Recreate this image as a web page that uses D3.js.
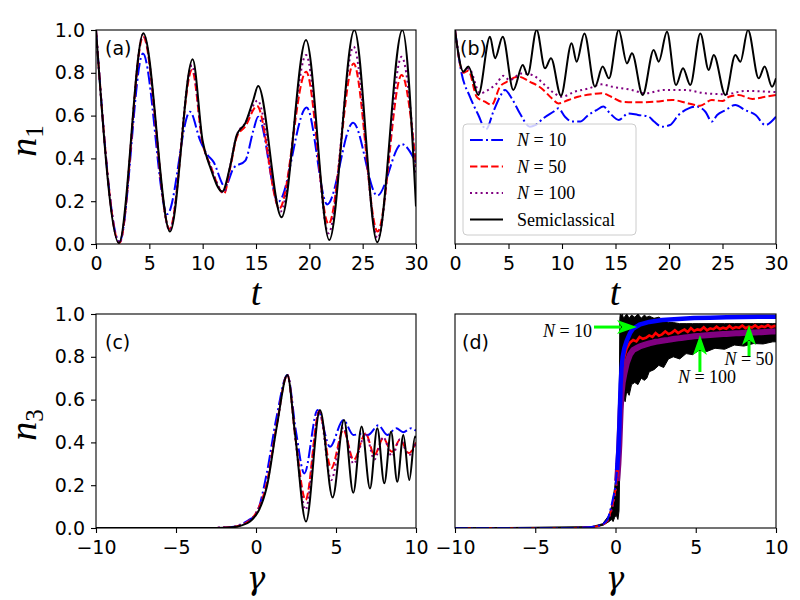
<!DOCTYPE html>
<html>
<head>
<meta charset="utf-8">
<script src="https://cdn.jsdelivr.net/npm/d3@7"></script>
<style>body{margin:0;background:#fff}</style>
</head>
<body>
<div id="chart"></div>
<script>
// ---- data: [t or gamma, n] ----
const a_N10 = [[0,1.0],[2.2,0.01],[4.4,0.89],[6.69,0.14],[8.81,0.618],[9.75,0.486],[10.4,0.42],[11.0,0.385],[12.1,0.268],[12.9,0.355],[14.0,0.39],[14.75,0.53],[15.2,0.595],[17.1,0.198],[19.75,0.638],[21.68,0.185],[24.1,0.567],[26.37,0.226],[28.65,0.467],[30,0.38]]
const a_N50 = [[0,1.0],[2.2,0.005],[4.42,0.97],[6.9,0.07],[9.0,0.813],[10.0,0.47],[10.7,0.37],[12.0,0.235],[12.6,0.36],[13.2,0.5],[14.0,0.55],[15.1,0.645],[17.2,0.167],[19.7,0.805],[21.8,0.093],[24.15,0.844],[26.4,0.058],[28.65,0.79],[30,0.37]]
const a_N100 = [[0,1.0],[2.2,0.005],[4.42,0.98],[6.9,0.065],[9.0,0.835],[10.0,0.47],[10.7,0.37],[12.0,0.24],[12.6,0.37],[13.2,0.51],[14.0,0.565],[15.15,0.67],[17.3,0.152],[19.7,0.883],[21.8,0.05],[24.15,0.922],[26.4,0.027],[28.65,0.875],[30,0.33]]
const a_semi = [[0,1.0],[2.15,0.005],[4.44,0.985],[6.94,0.058],[9.06,0.863],[10.0,0.48],[10.7,0.36],[11.84,0.245],[12.56,0.36],[13.2,0.51],[14.0,0.565],[14.75,0.673],[15.2,0.738],[17.4,0.125],[19.69,0.953],[21.87,0.019],[24.22,1.0],[26.37,0.008],[28.72,1.0],[30,0.175]]

const b_N10 = [[0,1.0],[0.62,0.797],[1.4,0.688],[2.18,0.603],[2.9,0.535],[3.58,0.618],[4.2,0.688],[4.67,0.72],[5.3,0.681],[6.07,0.61],[7.0,0.548],[7.5,0.555],[8.25,0.587],[9.19,0.618],[9.66,0.634],[10.28,0.595],[10.9,0.572],[11.7,0.572],[12.46,0.603],[13.24,0.626],[13.86,0.642],[14.5,0.61],[15.3,0.58],[16.2,0.61],[17.1,0.603],[18.1,0.595],[18.6,0.572],[19.35,0.548],[20.1,0.556],[20.9,0.603],[21.84,0.634],[22.6,0.642],[23.4,0.618],[24.0,0.572],[24.5,0.603],[25.3,0.626],[26.2,0.65],[27.1,0.626],[28.1,0.603],[29.0,0.556],[30,0.595]]
const b_N50 = [[0,1.0],[0.78,0.8],[1.25,0.81],[2.03,0.688],[2.8,0.665],[3.43,0.65],[4.2,0.735],[4.83,0.758],[5.92,0.782],[7.0,0.758],[8.1,0.727],[9.04,0.681],[9.66,0.657],[10.6,0.673],[11.5,0.688],[12.8,0.70],[13.7,0.705],[14.6,0.688],[15.6,0.665],[17.2,0.662],[18.7,0.665],[20.3,0.673],[21.8,0.657],[22.9,0.646],[24.0,0.673],[25.0,0.668],[25.6,0.688],[26.5,0.696],[27.8,0.678],[29.0,0.688],[30,0.696]]
const b_N100 = [[0,1.0],[0.78,0.805],[1.3,0.82],[2.34,0.704],[3.1,0.72],[3.9,0.75],[4.5,0.786],[5.1,0.766],[6.23,0.797],[7.2,0.79],[8.4,0.743],[9.3,0.704],[9.97,0.688],[11.2,0.712],[12.5,0.727],[13.7,0.746],[14.7,0.735],[16.5,0.72],[17.8,0.704],[19.6,0.72],[21.5,0.72],[23.4,0.704],[25.3,0.70],[27.1,0.715],[30,0.71]]
const b_semi = [[0,1.0],[0.78,0.805],[1.25,0.829],[2.18,0.696],[3.27,0.969],[3.74,0.868],[4.46,0.969],[5.45,0.72],[6.33,0.836],[6.79,0.79],[7.63,1.0],[8.41,0.821],[8.97,0.868],[9.9,0.693],[10.9,0.938],[11.37,0.852],[12.09,0.984],[13.08,0.735],[13.8,0.829],[14.39,0.774],[15.3,1.0],[16.07,0.844],[16.54,0.891],[17.54,0.696],[18.57,0.907],[19.04,0.852],[19.81,0.992],[20.65,0.743],[21.31,0.821],[21.99,0.743],[22.93,0.984],[23.71,0.813],[24.18,0.883],[25.27,0.696],[26.2,0.883],[26.67,0.852],[27.38,1.0],[28.38,0.774],[28.94,0.829],[29.63,0.735],[30,0.774]]

const c_N10 = [[-10,0],[-3,0],[-2,0.002],[-1.5,0.005],[-1,0.015],[-0.5,0.035],[0.04,0.069],[0.67,0.255],[1.29,0.52],[1.96,0.715],[2.5,0.45],[3.02,0.255],[3.85,0.551],[4.625,0.38],[5.46,0.505],[6.08,0.435],[6.6,0.44],[7.0,0.435],[7.65,0.48],[8.2,0.435],[8.77,0.466],[9.2,0.448],[9.7,0.466],[10,0.455]]
const c_N50 = [[-10,0],[-3,0],[-2,0.002],[-1.5,0.004],[-1,0.012],[-0.5,0.03],[0,0.07],[0.67,0.21],[1.29,0.48],[1.96,0.715],[2.5,0.4],[3.1,0.131],[3.95,0.545],[4.7,0.279],[5.46,0.458],[6.1,0.318],[6.85,0.442],[7.4,0.341],[7.95,0.419],[8.5,0.356],[9.0,0.412],[9.55,0.35],[10,0.4]]
const c_N100 = [[-10,0],[-3,0],[-2,0.002],[-1.5,0.004],[-1,0.012],[-0.5,0.03],[0,0.07],[0.67,0.2],[1.29,0.475],[1.96,0.715],[2.5,0.39],[3.1,0.085],[3.95,0.548],[4.7,0.224],[5.46,0.47],[6.1,0.3],[6.85,0.44],[7.4,0.32],[7.95,0.425],[8.5,0.335],[9.0,0.415],[9.55,0.34],[10,0.4]]
const c_semi = [[-10,0],[-3,0],[-2,0.001],[-1.5,0.003],[-1,0.01],[-0.375,0.03],[0.67,0.19],[1.29,0.47],[1.96,0.715],[2.44,0.44],[3.125,0.03],[4.0,0.551],[4.79,0.143],[5.5,0.505],[6.08,0.165],[6.6,0.474],[7.125,0.185],[7.58,0.466],[8.02,0.209],[8.44,0.45],[8.83,0.216],[9.21,0.435],[9.58,0.224],[9.94,0.427],[10,0.42]]

const d_N10 = [[-10,0],[-3,0],[-2,0.002],[-1.5,0.005],[-1,0.012],[-0.75,0.02],[-0.5,0.04],[-0.35,0.075],[-0.15,0.14],[0,0.2],[0.1,0.27],[0.18,0.36],[0.24,0.47],[0.28,0.57],[0.32,0.67],[0.38,0.75],[0.45,0.8],[0.55,0.84],[0.7,0.875],[0.9,0.91],[1.1,0.932],[1.5,0.95],[2.1,0.963],[2.9,0.972],[3.9,0.977],[4.9,0.981],[5.9,0.983],[6.9,0.985],[7.9,0.986],[8.9,0.987],[10,0.987]]
const d_N50 = [[-10,0],[-3,0],[-2,0.002],[-1.5,0.004],[-1,0.01],[-0.75,0.018],[-0.5,0.035],[-0.35,0.065],[-0.15,0.12],[0,0.18],[0.1,0.24],[0.18,0.33],[0.24,0.43],[0.28,0.53],[0.32,0.63],[0.38,0.71],[0.45,0.76],[0.55,0.8],[0.7,0.84],[0.9,0.866],[1.1,0.878],[1.3,0.872],[1.5,0.893],[1.7,0.884],[1.9,0.889],[2.1,0.9],[2.3,0.893],[2.5,0.911],[2.7,0.898],[2.9,0.905],[3.1,0.918],[3.3,0.906],[3.5,0.912],[3.7,0.924],[3.9,0.911],[4.1,0.92],[4.3,0.927],[4.5,0.916],[4.7,0.934],[4.9,0.921],[5.1,0.928],[5.3,0.925],[5.5,0.938],[5.7,0.924],[5.9,0.933],[6.1,0.929],[6.3,0.941],[6.5,0.93],[6.7,0.936],[6.9,0.931],[7.1,0.944],[7.3,0.932],[7.5,0.939],[7.7,0.935],[7.9,0.946],[8.1,0.934],[8.3,0.941],[8.5,0.937],[8.7,0.947],[8.9,0.936],[9.1,0.943],[9.3,0.939],[9.5,0.948],[9.7,0.938],[9.9,0.944],[10,0.942]]
const d_N100 = [[-10,0],[-3,0],[-2,0.002],[-1.5,0.004],[-1,0.01],[-0.75,0.017],[-0.5,0.033],[-0.35,0.06],[-0.15,0.11],[0,0.17],[0.1,0.22],[0.18,0.3],[0.24,0.39],[0.28,0.47],[0.32,0.55],[0.38,0.63],[0.45,0.68],[0.55,0.72],[0.7,0.77],[0.9,0.81],[1.1,0.832],[1.3,0.84],[1.5,0.848],[1.7,0.853],[1.9,0.858],[2.1,0.863],[2.3,0.866],[2.5,0.87],[2.7,0.872],[2.9,0.875],[3.1,0.877],[3.3,0.879],[3.5,0.882],[3.7,0.884],[3.9,0.886],[4.1,0.888],[4.3,0.89],[4.5,0.892],[4.7,0.894],[4.9,0.896],[5.1,0.897],[5.3,0.898],[5.5,0.9],[5.7,0.901],[5.9,0.902],[6.1,0.903],[6.3,0.904],[6.5,0.905],[6.7,0.906],[6.9,0.907],[7.1,0.908],[7.3,0.909],[7.5,0.91],[7.7,0.91],[7.9,0.911],[8.1,0.912],[8.3,0.913],[8.5,0.913],[8.7,0.914],[8.9,0.915],[9.1,0.915],[9.3,0.916],[9.5,0.917],[9.7,0.918],[9.9,0.918],[10,0.919]]
// semiclassical in (d) is a dense noisy band: [gamma, lower edge, upper edge]
const d_semi = [[-10,0,0],[-1.5,0.004,0.006],[-0.8,0.012,0.02],[-0.4,0.03,0.06],[-0.25,0.04,0.1],[-0.15,0.03,0.14],[-0.05,0.05,0.19],[0.05,0.06,0.25],[0.15,0.04,0.32],[0.22,0.08,0.42],[0.27,0.3,0.98],[0.3,0.5,1.0],[0.35,0.6,0.99],[0.42,0.57,1.0],[0.5,0.61,0.98],[0.6,0.59,0.99],[0.7,0.64,1.0],[0.85,0.62,0.98],[1.0,0.67,0.995],[1.2,0.68,0.985],[1.4,0.67,1.0],[1.6,0.7,0.98],[1.8,0.69,0.995],[1.95,0.7,0.985],[2.1,0.73,0.99],[2.4,0.74,0.98],[2.7,0.76,0.985],[3.0,0.75,0.97],[3.3,0.79,0.96],[3.6,0.8,0.96],[4.0,0.79,0.955],[4.4,0.815,0.955],[4.8,0.81,0.955],[5.2,0.83,0.955],[5.7,0.825,0.955],[6.2,0.84,0.955],[6.8,0.835,0.955],[7.4,0.855,0.955],[8.0,0.85,0.955],[8.6,0.862,0.955],[9.2,0.86,0.955],[9.8,0.87,0.955],[10,0.87,0.955]]

const nTicks = [0, 0.2, 0.4, 0.6, 0.8, 1.0]
const tTicks = [0, 5, 10, 15, 20, 25, 30]
const gTicks = [-10, -5, 0, 5, 10]
const legendNames = ['N10', 'N50', 'N100', 'semi']
const legendLabels = {N10: '10', N50: '50', N100: '100', semi: 'Semiclassical'}
// annotations in (d): label number, text position, arrow tail and tip (data coords)
const annotations = [
    {label: '10', tx: -1.46, ty: 0.893, anchor: 'end', x1: -1.34, y1: 0.939, x2: 1.34, y2: 0.939},
    {label: '100', tx: 5.7, ty: 0.678, anchor: 'middle', x1: 5.26, y1: 0.729, x2: 5.26, y2: 0.902},
    {label: '50', tx: 8.32, ty: 0.762, anchor: 'middle', x1: 8.32, y1: 0.799, x2: 8.32, y2: 0.949}
]

const styles = {
    N10: {color: 'blue', dash: '12.8,3.2,2,3.2'},
    N50: {color: 'red', dash: '7.4,3.2'},
    N100: {color: 'purple', dash: '2,3.3'},
    semi: {color: 'black', dash: null}
}

const width = 800, height = 600
const svg = d3.select('#chart')
    .append('svg')
    .attr('width', width)
    .attr('height', height)
    .style('font-family', 'DejaVu Sans')

const mathFont = 'Liberation Serif'

function panel(id, xDom, xRange, yRange, xTicks, showY) {
    const x = d3.scaleLinear().domain(xDom).range(xRange)
    const y = d3.scaleLinear().domain([0, 1]).range(yRange)
    svg.append('clipPath').attr('id', 'clip-' + id)
        .append('rect')
        .attr('x', xRange[0]).attr('y', yRange[1])
        .attr('width', xRange[1] - xRange[0]).attr('height', yRange[0] - yRange[1])
    const xAxis = d3.axisBottom(x).tickValues(xTicks).tickFormat(d3.format('d'))
        .tickSize(5).tickSizeOuter(0).tickPadding(8)
    svg.append('g')
        .attr('transform', 'translate(0,' + yRange[0] + ')')
        .call(xAxis)
        .call(g => g.select('.domain').remove())
        .attr('font-size', 19).attr('font-family', 'DejaVu Sans')
        .call(g => g.selectAll('line').attr('stroke-width', 1.1))
    if (showY) {
        const yAxis = d3.axisLeft(y).tickValues(nTicks).tickFormat(d3.format('.1f'))
            .tickSize(5).tickSizeOuter(0).tickPadding(6)
        svg.append('g')
            .attr('transform', 'translate(' + xRange[0] + ',0)')
            .call(yAxis)
            .call(g => g.select('.domain').remove())
            .attr('font-size', 19).attr('font-family', 'DejaVu Sans')
            .call(g => g.selectAll('line').attr('stroke-width', 1.1))
    }
    const plot = svg.append('g').attr('clip-path', 'url(#clip-' + id + ')')
    return {x, y, plot, xRange, yRange}
}

function drawLine(p, data, key, curve, widthPx, dashed) {
    const line = d3.line()
        .x(d => p.x(d[0]))
        .y(d => p.y(d[1]))
        .curve(curve || d3.curveMonotoneX)
    p.plot.append('path')
        .datum(data)
        .attr('d', line)
        .attr('fill', 'none')
        .attr('stroke', styles[key].color)
        .attr('stroke-width', widthPx || 2)
        .attr('stroke-dasharray', dashed === false ? null : styles[key].dash)
}

function frame(p) {
    svg.append('rect')
        .attr('x', p.xRange[0]).attr('y', p.yRange[1])
        .attr('width', p.xRange[1] - p.xRange[0])
        .attr('height', p.yRange[0] - p.yRange[1])
        .attr('fill', 'none').attr('stroke', 'black').attr('stroke-width', 1.1)
}

function panelLabel(text, x, y) {
    svg.append('text').attr('x', x).attr('y', y)
        .attr('font-size', 19).attr('font-family', 'DejaVu Sans').text(text)
}

function mathN(sel, num) {
    sel.append('tspan').attr('font-style', 'italic').text('N')
    sel.append('tspan').text(' = ' + num)
}

// ---- panel (a) ----
const pa = panel('a', [0, 30], [96, 416], [244, 30], tTicks, true)
drawLine(pa, a_N10, 'N10')
drawLine(pa, a_N50, 'N50')
drawLine(pa, a_N100, 'N100')
drawLine(pa, a_semi, 'semi')
frame(pa)
panelLabel('(a)', 105, 55)

// ---- panel (b) ----
const pb = panel('b', [0, 30], [455, 776], [244, 30], tTicks, false)
drawLine(pb, b_N10, 'N10')
drawLine(pb, b_N50, 'N50')
drawLine(pb, b_N100, 'N100')
drawLine(pb, b_semi, 'semi')
frame(pb)
panelLabel('(b)', 460, 55)

// legend
const leg = svg.append('g').attr('transform', 'translate(463,124)')
leg.append('rect')
    .attr('width', 173).attr('height', 111).attr('rx', 4)
    .attr('fill', 'white').attr('fill-opacity', 0.8)
    .attr('stroke', '#cccccc').attr('stroke-width', 1)
legendNames.forEach((k, i) => {
    const yy = 16 + i * 26.5
    leg.append('line')
        .attr('x1', 7).attr('x2', 40).attr('y1', yy).attr('y2', yy)
        .attr('stroke', styles[k].color).attr('stroke-width', 2)
        .attr('stroke-dasharray', styles[k].dash)
    const t = leg.append('text')
        .attr('x', 54).attr('y', yy + 6)
        .attr('font-family', mathFont).attr('font-size', 18)
    if (k === 'semi') t.text(legendLabels[k])
    else mathN(t, legendLabels[k])
})

// ---- panel (c) ----
const pc = panel('c', [-10, 10], [96, 416], [528, 314], gTicks, true)
drawLine(pc, c_N10, 'N10')
drawLine(pc, c_N50, 'N50')
drawLine(pc, c_N100, 'N100')
drawLine(pc, c_semi, 'semi')
frame(pc)
panelLabel('(c)', 105, 349)

// ---- panel (d) ----
const pd = panel('d', [-10, 10], [455, 776], [528, 314], gTicks, false)
const band = d3.area()
    .x(d => pd.x(d[0]))
    .y0(d => pd.y(d[1]))
    .y1(d => pd.y(d[2]))
pd.plot.append('path')
    .datum(d_semi)
    .attr('d', band)
    .attr('fill', 'black').attr('stroke', 'black').attr('stroke-width', 1)
// rising part keeps the line style, the noisy plateau reads as a solid thick line
const split = g => g <= 0.1
const dSeries = [['N100', d_N100, 6], ['N50', d_N50, 2.6], ['N10', d_N10, 4.5]]
dSeries.forEach(([k, data, w]) => {
    const lo = data.filter(d => split(d[0]))
    const hi = data.filter(d => !split(d[0]))
    drawLine(pd, [lo[lo.length - 1]].concat(hi), k, d3.curveLinear, w, false)
    drawLine(pd, lo, k, d3.curveMonotoneX, 2)
})
frame(pd)
panelLabel('(d)', 462, 349)

// arrows and their labels
annotations.forEach(a => {
    const x1 = pd.x(a.x1), y1 = pd.y(a.y1), x2 = pd.x(a.x2), y2 = pd.y(a.y2)
    const len = Math.hypot(x2 - x1, y2 - y1)
    const ux = (x2 - x1) / len, uy = (y2 - y1) / len
    const head = 20, hw = 7
    const bx = x2 - ux * head, by = y2 - uy * head
    svg.append('line')
        .attr('x1', x1).attr('y1', y1).attr('x2', bx + ux * 4).attr('y2', by + uy * 4)
        .attr('stroke', '#00ff00').attr('stroke-width', 3)
    svg.append('path')
        .attr('d', 'M' + x2 + ',' + y2 +
            'L' + (bx - uy * hw) + ',' + (by + ux * hw) +
            'L' + (bx + ux * 5) + ',' + (by + uy * 5) +
            'L' + (bx + uy * hw) + ',' + (by - ux * hw) + 'Z')
        .attr('fill', '#00ff00')
    const t = svg.append('text')
        .attr('x', pd.x(a.tx)).attr('y', pd.y(a.ty))
        .attr('text-anchor', a.anchor)
        .attr('font-family', mathFont).attr('font-size', 18)
    mathN(t, a.label)
})

// axis labels
function yLabel(cx, cy, sub) {
    const t = svg.append('text')
        .attr('transform', 'translate(' + cx + ',' + cy + ') rotate(-90)')
        .attr('text-anchor', 'middle')
        .attr('font-family', mathFont).attr('font-size', 38)
    t.append('tspan').attr('font-style', 'italic').text('n')
    t.append('tspan').attr('font-size', 25).attr('dy', 7).text(sub)
}
yLabel(36, 141, '1')
yLabel(36, 425, '3')

function xLabel(cx, cy, txt, font, size) {
    svg.append('text')
        .attr('x', cx).attr('y', cy)
        .attr('text-anchor', 'middle')
        .attr('font-family', font).attr('font-size', size)
        .attr('font-style', 'italic')
        .text(txt)
}
xLabel(256, 305, 't', mathFont, 38)
xLabel(615, 305, 't', mathFont, 38)
xLabel(256, 589, 'γ', 'DejaVu Serif', 31)
xLabel(615, 589, 'γ', 'DejaVu Serif', 31)
</script>
</body>
</html>
